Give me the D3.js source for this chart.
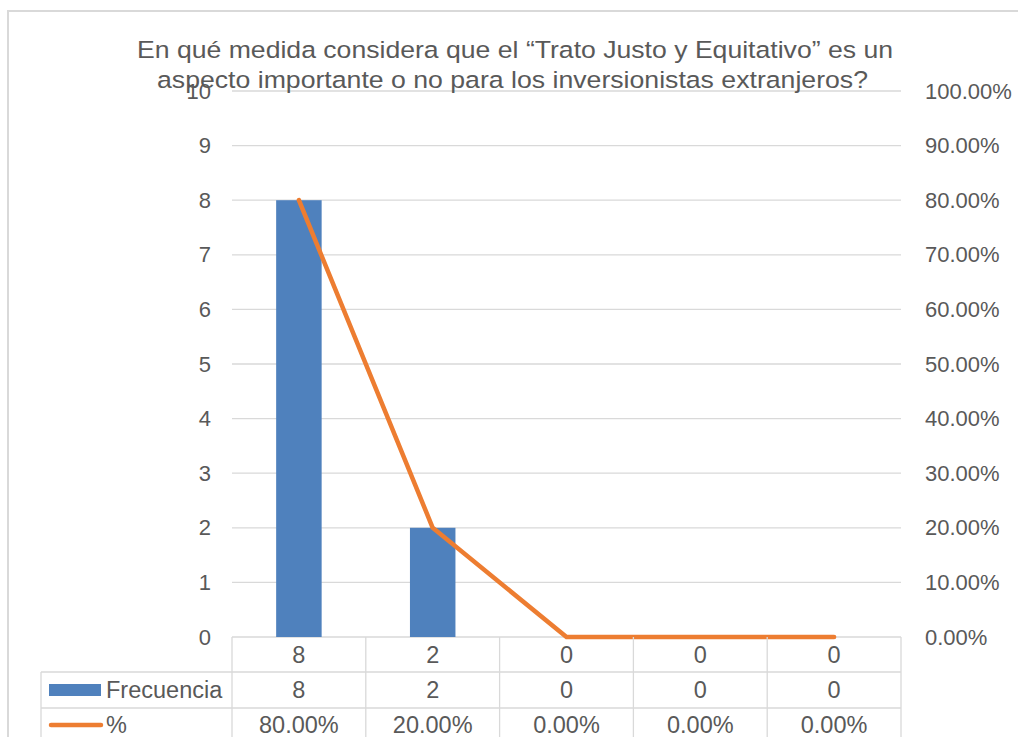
<!DOCTYPE html>
<html><head><meta charset="utf-8">
<script src="https://cdn.jsdelivr.net/npm/d3@7"></script>
<style>body{margin:0;background:#fff;}svg{display:block;font-family:"Liberation Sans",Arial,sans-serif;}</style>
</head><body>
<svg id="c" width="1018" height="737"></svg>
<script>
const titleLines = ["En qué medida considera que el “Trato Justo y Equitativo” es un", "aspecto importante o no para los inversionistas extranjeros?"];
const categories = ["8", "2", "0", "0", "0"];
const frecuencia = [8, 2, 0, 0, 0];
const porcentaje = [0.8, 0.2, 0, 0, 0];
const leftTicks = [0,1,2,3,4,5,6,7,8,9,10];
const rightTicks = [0,0.1,0.2,0.3,0.4,0.5,0.6,0.7,0.8,0.9,1.0];
const seriesNames = ["Frecuencia", "%"];

const svg = d3.select("#c");
const txt = "#595959", grid = "#d9d9d9", blue = "#4f81bd", orange = "#ed7d31";
const L = 232, R = 901, T = 91, B = 637;
const x = d3.scaleBand().domain(d3.range(categories.length)).range([L, R]).paddingInner(0.66).paddingOuter(0.33);
const xb = d3.scaleBand().domain(d3.range(categories.length)).range([L, R]);
const y = d3.scaleLinear().domain([0, 10]).range([B, T]);
const y2 = d3.scaleLinear().domain([0, 1]).range([B, T]);

// outer border
svg.append("path").attr("d", "M8,737 V11 H1018").attr("fill","none").attr("stroke","#d9d9d9").attr("stroke-width",2);

// gridlines
svg.append("g").selectAll("line").data(leftTicks).join("line")
  .attr("x1", L).attr("x2", R).attr("y1", d => y(d)).attr("y2", d => y(d))
  .attr("stroke", grid).attr("stroke-width", 1.3);

// left axis
const la = svg.append("g").attr("transform", `translate(${L},0)`)
  .call(d3.axisLeft(y).tickValues(leftTicks).tickSize(0).tickPadding(21).tickFormat(d3.format("d")));
la.select(".domain").remove();
la.selectAll("text").attr("fill", txt).style("font-size","22px").style("font-family","Liberation Sans, Arial, sans-serif");

// right axis
const ra = svg.append("g").attr("transform", `translate(${R},0)`)
  .call(d3.axisRight(y2).tickValues(rightTicks).tickSize(0).tickPadding(24).tickFormat(d3.format(".2%")));
ra.select(".domain").remove();
ra.selectAll("text").attr("fill", txt).style("font-size","22px").style("font-family","Liberation Sans, Arial, sans-serif");

// bars
svg.append("g").selectAll("rect").data(frecuencia).join("rect")
  .attr("x", (d,i) => x(i)).attr("width", x.bandwidth())
  .attr("y", d => y(d)).attr("height", d => B - y(d)).attr("fill", blue);

// line
const line = d3.line().x((d,i) => xb(i) + xb.bandwidth()/2).y(d => y2(d));
svg.append("path").datum(porcentaje).attr("d", line).attr("fill","none")
  .attr("stroke", orange).attr("stroke-width", 4.5).attr("stroke-linejoin","round").attr("stroke-linecap","round");

// data table
const tL = 41, r1 = 672, r2 = 708, bottom = 737;
const tg = svg.append("g").attr("stroke", grid).attr("stroke-width", 1.3);
tg.append("line").attr("x1", tL).attr("x2", R).attr("y1", r1).attr("y2", r1);
tg.append("line").attr("x1", tL).attr("x2", R).attr("y1", r2).attr("y2", r2);
tg.append("line").attr("x1", tL).attr("x2", tL).attr("y1", r1).attr("y2", bottom);
tg.selectAll(".v").data(d3.range(categories.length + 1)).join("line")
  .attr("x1", i => L + i * xb.step()).attr("x2", i => L + i * xb.step())
  .attr("y1", B).attr("y2", bottom);

const rowY = [(B + r1)/2, (r1 + r2)/2, 725];
const rows = [categories, frecuencia.map(String), porcentaje.map(d3.format(".2%"))];
rows.forEach((row, ri) => {
  svg.append("g").selectAll("text").data(row).join("text")
    .attr("x", (d,i) => xb(i) + xb.bandwidth()/2).attr("y", rowY[ri])
    .attr("dy", "0.36em").attr("text-anchor","middle").attr("fill", txt)
    .style("font-size","23.5px").text(d => d);
});

// legend keys
svg.append("rect").attr("x", 49).attr("y", 684).attr("width", 52).attr("height", 12).attr("fill", blue);
svg.append("line").attr("x1", 51).attr("x2", 101).attr("y1", 725).attr("y2", 725)
  .attr("stroke", orange).attr("stroke-width", 4.5).attr("stroke-linecap","round");
svg.append("text").attr("x", 106).attr("y", rowY[1]).attr("dy","0.36em").attr("fill", txt)
  .style("font-size","23.5px").text(seriesNames[0]);
svg.append("text").attr("x", 106).attr("y", rowY[2]).attr("dy","0.36em").attr("fill", txt)
  .style("font-size","23.5px").text(seriesNames[1]);

// title
const tw = [[137, 893], [157, 868]];
svg.append("g").selectAll("text").data(titleLines).join("text")
  .attr("x", (d,i) => tw[i][0]).attr("y", (d,i) => 58 + i * 30)
  .attr("textLength", (d,i) => tw[i][1] - tw[i][0]).attr("lengthAdjust", "spacingAndGlyphs")
  .attr("fill", txt).style("font-size","24.5px").text(d => d);
</script>
</body></html>
